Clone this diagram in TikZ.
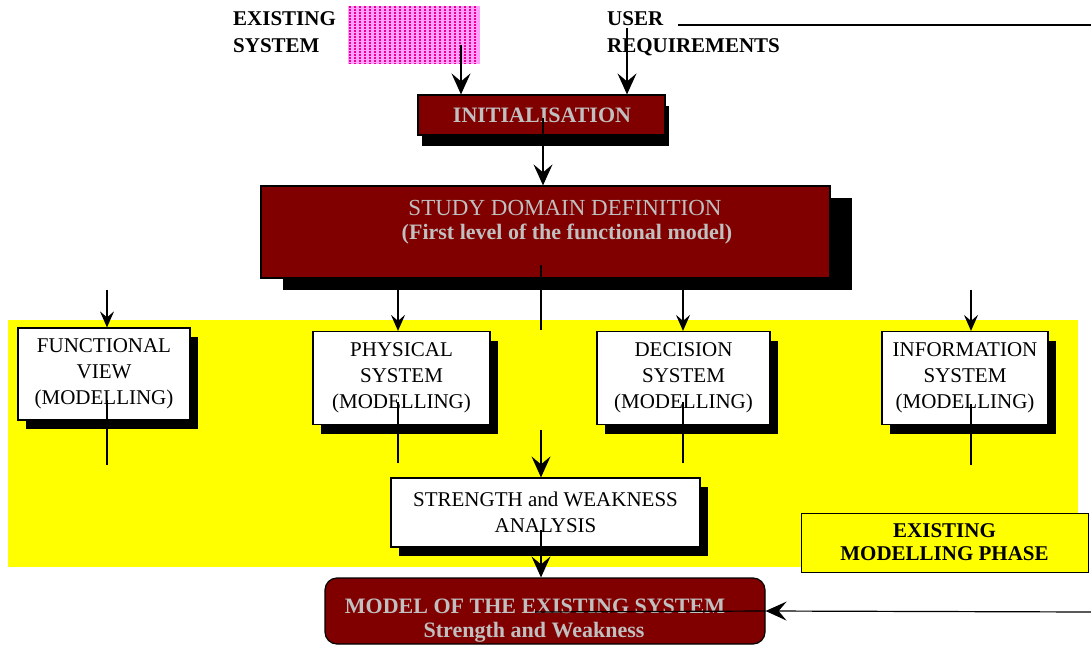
\documentclass[tikz,border=0pt]{standalone}
\usepackage{fontspec}
\setmainfont{Liberation Serif}
\usetikzlibrary{arrows.meta,shadows}
\definecolor{boxred}{RGB}{128,0,0}
\definecolor{silver}{RGB}{192,192,192}
\definecolor{phaseyellow}{RGB}{255,255,0}
\definecolor{dotpink}{RGB}{255,160,255}
\begin{document}
\begin{tikzpicture}[x=1pt,y=-1pt,
  redbox/.style={draw=black,line width=1.2pt,fill=boxred,inner sep=0pt},
  whitebox/.style={draw=black,line width=1.2pt,fill=white,inner sep=0pt,
    drop shadow={shadow xshift=8pt,shadow yshift=-9pt,fill=black,opacity=1},
    align=center,font=\fontsize{21}{26}\selectfont},
  redtext/.style={text=silver,inner sep=0pt,font=\fontsize{22}{26}\selectfont\bfseries},
  headtext/.style={align=left,anchor=north west,inner sep=0pt,
    font=\fontsize{21}{27}\selectfont\bfseries},
  arr/.style={line width=1.2pt,-{Stealth[length=16pt,width=14pt,inset=6pt]}},
  bigarr/.style={line width=1.2pt,-{Stealth[length=21pt,width=19pt,inset=8pt]}},
  ln/.style={line width=1.2pt}]
\useasboundingbox (0,0) rectangle (1091,647);

% yellow band behind the modelling boxes
\fill[phaseyellow] (8,320) rectangle (1078,567);

% existing system swatch
\fill[dotpink] (348,6) rectangle (480,64);
\foreach \x in {350,355,...,478}
  \draw[magenta,line width=1.6pt,dash pattern=on 1.6pt off 1.4pt] (\x,6) -- (\x,64);
\node[inner sep=0pt,minimum width=132pt,minimum height=58pt] (swatch) at (414,35) {};

% top labels
\node[headtext] (exist) at (233,11) {EXISTING\\SYSTEM};
\node[headtext] (user) at (607,11) {USER\\REQUIREMENTS};

% dark red boxes
\node[redbox,minimum width=247pt,minimum height=40pt,
  drop shadow={shadow xshift=4pt,shadow yshift=-11pt,fill=black,opacity=1}] (init) at (541.5,115) {};
\node[redtext] (initlbl) at (542,115) {INITIALISATION};

\node[redbox,minimum width=569pt,minimum height=92pt,
  drop shadow={shadow xshift=22pt,shadow yshift=-12pt,fill=black,opacity=1}] (study) at (545.5,232) {};
\node[redtext,font=\fontsize{23}{26}\selectfont] (studylbl) at (565,208) {STUDY DOMAIN DEFINITION};
\node[redtext] (studysub) at (567,234) {(First level of the functional model)};

% modelling boxes
\node[whitebox,minimum width=172pt,minimum height=92pt] (func) at (104,374)
  {FUNCTIONAL\\VIEW\\(MODELLING)};
\node[whitebox,minimum width=177pt,minimum height=93pt] (phys) at (401.5,378)
  {PHYSICAL\\SYSTEM\\(MODELLING)};
\node[whitebox,minimum width=173pt,minimum height=93pt] (dec) at (683.5,378)
  {DECISION\\SYSTEM\\(MODELLING)};
\node[whitebox,minimum width=166pt,minimum height=93pt] (info) at (965,378)
  {INFORMATION\\SYSTEM\\(MODELLING)};
\node[whitebox,minimum width=309pt,minimum height=69pt] (sw) at (545.5,512.5)
  {STRENGTH and WEAKNESS\\ANALYSIS};

% phase caption
\node[draw=black,line width=1pt,fill=phaseyellow,minimum width=287pt,minimum height=59pt,
  inner sep=0pt,align=center,font=\fontsize{21}{23}\selectfont\bfseries] (phase) at (944.5,542.5)
  {EXISTING\\MODELLING PHASE};

% result box
\node[redbox,rounded corners=12pt,minimum width=440pt,minimum height=66pt] (model) at (545,611) {};
\node[redtext] (modellbl) at (535,606) {MODEL OF THE EXISTING SYSTEM};
\node[redtext] (modelsub) at (534,632) {Strength and Weakness};

% free ends of the connectors
\coordinate (swatchout) at (461,45);
\coordinate (userout) at (627,28);
\coordinate (userline) at (678,25);
\coordinate (topright) at (1091,25);
\coordinate (initout) at (543,118);
\coordinate (studyout) at (541,265);
\coordinate (studystub) at (541,330);
\coordinate (fin) at (107,290);
\coordinate (pin) at (398,290);
\coordinate (din) at (683,290);
\coordinate (iin) at (971,290);
\coordinate (fout) at (107,465);
\coordinate (pout) at (398,463);
\coordinate (dout) at (683,463);
\coordinate (iout) at (971,465);
\coordinate (swin) at (541,430);
\coordinate (swout) at (541,530);
\coordinate (feedin) at (1091,612);
\coordinate (feedend) at (535,612);

% connectors
\draw[bigarr] (swatchout) -- (swatchout |- init.north);
\draw[bigarr] (userout) -- (userout |- init.north);
\draw[ln] (userline) -- (topright);
\draw[bigarr] (initout) -- (initout |- study.north);
\draw[ln] (studyout) -- (studystub);
\draw[arr] (fin) -- (fin |- func.north);
\draw[arr] (pin) -- (pin |- phys.north);
\draw[arr] (din) -- (din |- dec.north);
\draw[arr] (iin) -- (iin |- info.north);
\draw[ln] (fout) -- (fout |- 0,400);
\draw[ln] (pout) -- (pout |- 0,402);
\draw[ln] (dout) -- (dout |- 0,402);
\draw[ln] (iout) -- (iout |- 0,404);
\draw[bigarr] (swin) -- (swin |- sw.north);
\draw[bigarr] (swout) -- (swout |- model.north);
\draw[bigarr] (feedin) -- (model.east);
\draw[ln] (model.east) -- (feedend);
\end{tikzpicture}
\end{document}
